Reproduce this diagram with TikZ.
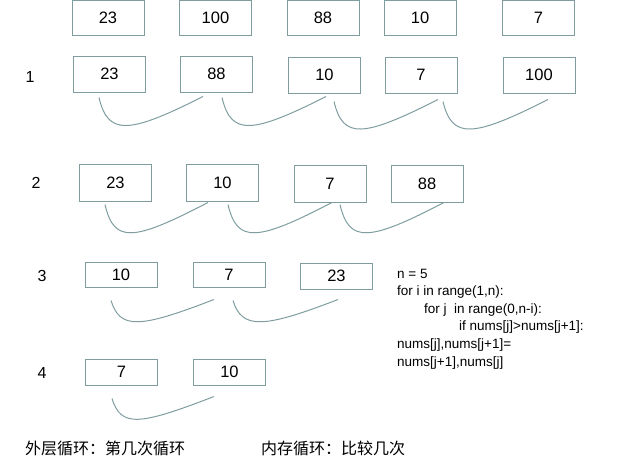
\documentclass[tikz,border=0pt]{standalone}
\usepackage{fontspec}
\setmainfont{Liberation Sans}
\newfontfamily\cjk{Noto Sans CJK SC}
\definecolor{boxc}{RGB}{127,157,159}
\tikzset{
 numbox/.style={draw=boxc, line width=1pt, inner sep=0pt, minimum width=72pt, minimum height=36pt, font=\fontsize{16.5}{20}\selectfont},
 smallbox/.style={numbox, minimum height=26pt},
 rowlabel/.style={inner sep=0pt, font=\fontsize{16}{19}\selectfont},
 codeline/.style={inner sep=0pt, anchor=base west, font=\fontsize{13.5}{16}\selectfont},
 note/.style={inner sep=0pt, anchor=west, font=\cjk\fontsize{16}{19}\selectfont},
 swapcurve/.style={draw=boxc, line width=1pt},
}
\newcommand\swapc[5]{\draw[swapcurve] ([shift={#2}]#1.south) .. controls +(9,#5) and +(-75,#5) .. ([shift={#4}]#3.south);}
\begin{document}
\begin{tikzpicture}[x=1pt,y=-1pt]
\useasboundingbox (0,0) rectangle (630,469);
% row 0
\node[numbox, minimum height=35pt] (r0a) at (108,17.5) {23};
\node[numbox, minimum height=35pt] (r0b) at (215.5,17.5) {100};
\node[numbox, minimum height=35pt] (r0c) at (323,18) {88};
\node[numbox, minimum height=35pt] (r0d) at (420,18) {10};
\node[numbox, minimum height=35pt] (r0e) at (538.5,18) {7};
% row 1
\node[rowlabel] (l1) at (30,77) {1};
\node[numbox] (r1a) at (109.5,74) {23};
\node[numbox] (r1b) at (216.5,74) {88};
\node[numbox] (r1c) at (324.5,75) {10};
\node[numbox] (r1d) at (421,75) {7};
\node[numbox] (r1e) at (539,75) {100};
\swapc{r1a}{(-10.5,5)}{r1b}{(-13.5,4)}{38}
\swapc{r1b}{(5.5,5)}{r1c}{(1.5,3)}{38}
\swapc{r1c}{(9.5,8)}{r1d}{(17,6)}{38}
\swapc{r1d}{(22,8)}{r1e}{(9,6)}{38}
% row 2
\node[rowlabel] (l2) at (36,183) {2};
\node[numbox, minimum height=37pt] (r2a) at (115.5,182.5) {23};
\node[numbox, minimum height=37pt] (r2b) at (222.5,182.5) {10};
\node[numbox, minimum height=37pt] (r2c) at (330,183.5) {7};
\node[numbox, minimum height=37pt] (r2d) at (427,183.5) {88};
\swapc{r2a}{(-10.5,3)}{r2b}{(-14.5,1)}{39}
\swapc{r2b}{(5.5,3)}{r2c}{(2,0)}{39}
\swapc{r2c}{(10,2)}{r2d}{(17,0)}{39}
% row 3
\node[rowlabel] (l3) at (42,276) {3};
\node[smallbox, minimum height=25pt] (r3a) at (121,274.5) {10};
\node[smallbox, minimum height=25pt] (r3b) at (229,274.5) {7};
\node[smallbox] (r3c) at (336.5,276) {23};
\swapc{r3a}{(-10,13)}{r3b}{(-15,12)}{29}
\swapc{r3b}{(4,13)}{r3c}{(1.5,10)}{29}
% row 4
\node[rowlabel] (l4) at (42,373) {4};
\node[smallbox] (r4a) at (121.5,372) {7};
\node[smallbox] (r4b) at (229.5,372) {10};
\swapc{r4a}{(-9.5,13)}{r4b}{(-15.5,11)}{29}
% code
\node[codeline] (c1) at (397,278) {n = 5};
\node[codeline] (c2) at (397,295.6) {for i in range(1,n):};
\node[codeline] (c3) at (424,313.2) {for j\ \ in range(0,n-i):};
\node[codeline] (c4) at (459,330.8) {if nums[j]>nums[j+1]:};
\node[codeline] (c5) at (397,348.4) {nums[j],nums[j+1]=};
\node[codeline] (c6) at (397,366) {nums[j+1],nums[j]};
% notes
\node[note] (n1) at (25,448) {外层循环：第几次循环};
\node[note] (n2) at (261,448) {内存循环：比较几次};
\end{tikzpicture}
\end{document}
